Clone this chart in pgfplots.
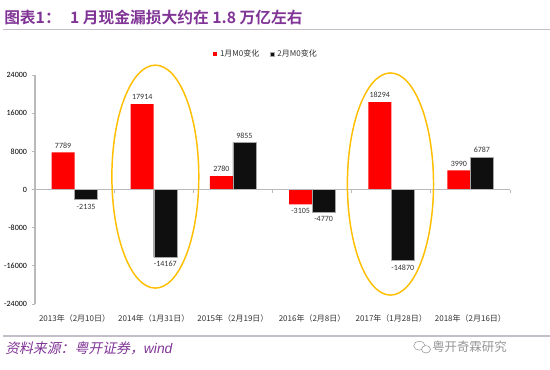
\documentclass[border=0pt]{standalone}
\usepackage{fontspec}
\usepackage{pgfplots}
\pgfplotsset{compat=1.18}
\setmainfont{Carlito}
\newfontfamily\cjk{Noto Sans CJK SC}
\newfontfamily\cjkb{Noto Sans CJK SC Bold}
\newfontfamily\cjkit[FakeSlant=0.22]{Noto Sans CJK SC}
\newfontfamily\latit{Liberation Sans}[ItalicFont=Liberation Sans Italic]
\definecolor{ttl}{RGB}{128,52,150}
\definecolor{axgray}{RGB}{185,185,185}
\definecolor{lblgray}{RGB}{50,50,50}
\definecolor{ringc}{RGB}{255,190,0}
\definecolor{barred}{RGB}{255,0,0}
\definecolor{barblk}{RGB}{15,15,15}
\definecolor{sepgray}{RGB}{195,190,200}
\definecolor{wm}{RGB}{150,150,150}
\begin{document}
\begin{tikzpicture}
\path[use as bounding box] (0,0) rectangle (412.5pt,276.75pt);
% title
\node[anchor=west, inner sep=0pt, text=ttl] at (3pt,263.6pt) {\fontsize{11.8}{13}\selectfont\cjkb 图表1：\hspace{7pt}1 月现金漏损大约在 1.8 万亿左右};
\draw[sepgray, line width=1pt] (2.25pt,254.6pt) -- (412.5pt,254.6pt);
% bottom
\draw[sepgray, line width=1pt] (2.25pt,24.75pt) -- (412.5pt,24.75pt);
\node[anchor=west, inner sep=0pt, text=ttl] at (3.75pt,15.75pt) {\fontsize{10.4}{12}\selectfont\cjkit 资料来源：粤开证券，\latit\itshape wind};
\node[anchor=west, inner sep=0pt, text=wm] at (324pt,16.5pt) {\fontsize{9.3}{11}\selectfont\cjk 粤开奇霖研究};
\draw[wm, line width=0.4pt] (314.5pt,17.5pt) ellipse [x radius=4.2pt, y radius=3.4pt];
\draw[wm, line width=0.4pt, fill=white] (319.5pt,14.8pt) ellipse [x radius=3.4pt, y radius=2.8pt];
\begin{axis}[
  at={(26.25pt,48.75pt)}, anchor=south west,
  scale only axis, width=356.25pt, height=171.75pt,
  xmin=-0.5, xmax=5.5, ymin=-24000, ymax=24000,
  enlarge x limits=false,
  scaled y ticks=false,
  axis x line*=bottom, axis y line*=left,
  x axis line style={draw=none},
  y axis line style={draw=axgray, line width=0.8pt},
  xtick={0,...,5},
  xticklabels={2013年（2月10日）,2014年（1月31日）,2015年（2月19日）,2016年（2月8日）,2017年（1月28日）,2018年（2月16日）},
  xticklabel style={font=\fontsize{6}{7}\selectfont\cjk, text=lblgray, yshift=-2pt},
  x tick style={draw=none},
  ytick={-24000,-16000,-8000,0,8000,16000,24000},
  yticklabels={-24000,-16000,-8000,0,8000,16000,24000},
  yticklabel style={font=\fontsize{6}{7}\selectfont, text=black},
  y tick style={draw=axgray, line width=0.6pt},
  tick align=outside, major tick length=2.5pt,
  ybar, bar width=17.25pt,
  clip=false,
  legend style={draw=none, fill=none, at={(0.366,1.092)}, anchor=west,
    legend columns=2, font=\fontsize{6}{7}\selectfont\cjk, text=lblgray,
    /tikz/every even column/.append style={column sep=6pt}},
  legend image code/.code={\fill[#1] (0pt,-1.6pt) rectangle (3.2pt,1.6pt);},
  point meta=y,
  nodes near coords={\pgfmathprintnumber[1000 sep={},assume math mode=true,fixed,precision=0]{\pgfplotspointmeta}},
  nodes near coords align={vertical},
  every node near coord/.append style={font=\fontsize{6}{7}\selectfont, text=lblgray, inner sep=3pt},
]
\addplot[fill=barred, draw=none, bar shift=-8.625pt] coordinates {
  (0,7789) (1,17914) (2,2780) (3,-3105) (4,18294) (5,3990)};
\addplot[fill=barblk, draw=gray!70, line width=0.3pt, bar shift=8.625pt] coordinates {
  (0,-2135) (1,-14167) (2,9855) (3,-4770) (4,-14870) (5,6787)};
\legend{1月M0变化,2月M0变化}
\draw[axgray, line width=0.8pt] (axis cs:-0.5,0) -- (axis cs:5.5,0);
\draw[axgray, line width=0.6pt] (axis cs:0.5,0) -- ++(0pt,-2.5pt);
\draw[axgray, line width=0.6pt] (axis cs:1.5,0) -- ++(0pt,-2.5pt);
\draw[axgray, line width=0.6pt] (axis cs:2.5,0) -- ++(0pt,-2.5pt);
\draw[axgray, line width=0.6pt] (axis cs:3.5,0) -- ++(0pt,-2.5pt);
\draw[axgray, line width=0.6pt] (axis cs:4.5,0) -- ++(0pt,-2.5pt);
\draw[axgray, line width=0.6pt] (axis cs:5.5,0) -- ++(0pt,-2.5pt);
\coordinate (e1) at (axis cs:1.02,2700);
\coordinate (e2) at (axis cs:3.99,1150);
\end{axis}
\draw[ringc, line width=1.1pt] (e1) ellipse [x radius=32.6pt, y radius=83.6pt];
\draw[ringc, line width=1.1pt] (e2) ellipse [x radius=32.3pt, y radius=83.3pt];
\end{tikzpicture}
\end{document}
